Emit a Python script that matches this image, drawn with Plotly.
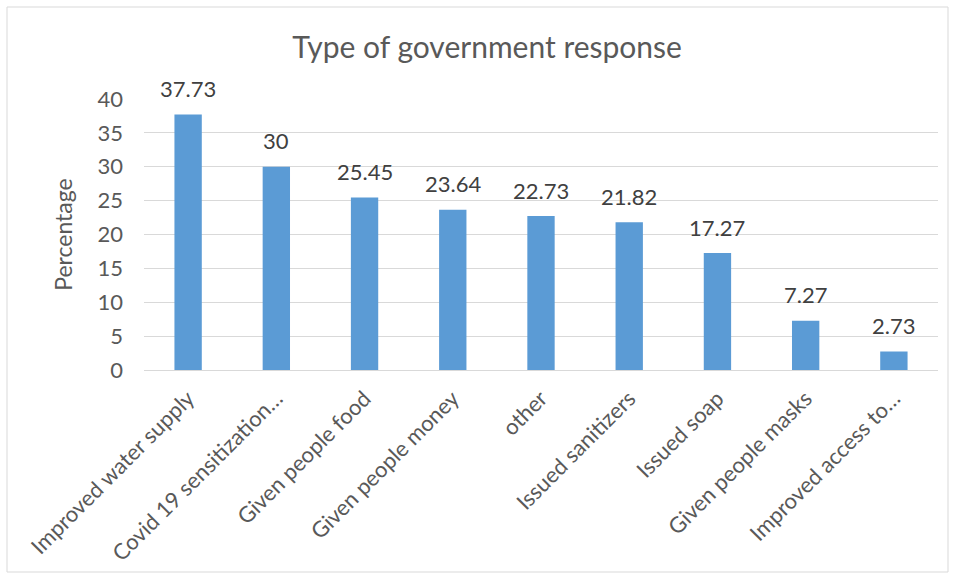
import plotly.graph_objects as go

categories = ["Improved water supply", "Covid 19 sensitization…", "Given people food",
              "Given people money", "other", "Issued sanitizers", "Issued soap",
              "Given people masks", "Improved access to…"]
values = [37.73, 30, 25.45, 23.64, 22.73, 21.82, 17.27, 7.27, 2.73]
labels = ["37.73", "30", "25.45", "23.64", "22.73", "21.82", "17.27", "7.27", "2.73"]
yticks = [0, 5, 10, 15, 20, 25, 30, 35, 40]

FONT = "Lato"
TXT = "#595959"

fig = go.Figure()
fig.add_trace(go.Bar(x=categories, y=values, marker=dict(color="#5B9BD5", line=dict(width=0)),
                     hoverinfo="skip"))

for c, v, t in zip(categories, values, labels):
    fig.add_annotation(x=c, y=v, text=t, showarrow=False, yanchor="middle", yshift=26,
                       font=dict(family=FONT, size=22, color="#404040"))

L, R, T, B = 144, 17, 99, 209
W, H = 955, 579
pw, ph = W - L - R, H - T - B
def px(x): return (x - L) / pw
def py(y): return (H - B - y) / ph

fig.add_shape(type="rect", xref="paper", yref="paper",
              x0=px(7), x1=px(948), y0=py(572), y1=py(7),
              line=dict(color="#d9d9d9", width=1), fillcolor="rgba(0,0,0,0)", layer="below")

fig.update_layout(
    width=W, height=H,
    margin=dict(l=L, r=R, t=T, b=B),
    paper_bgcolor="white", plot_bgcolor="white",
    bargap=0.69,
    showlegend=False,
    title=dict(text="Type of government response", x=0.51, xanchor="center",
               y=1 - 47 / H, yanchor="middle",
               font=dict(family=FONT, size=30, color=TXT)),
    xaxis=dict(tickangle=-45, tickfont=dict(family=FONT, size=22, color=TXT),
               showline=True, linecolor="#d9d9d9", linewidth=1, ticks="",
               ticklabelstandoff=6, showgrid=False),
    yaxis=dict(range=[0, 40], tickvals=yticks, showgrid=True, gridcolor="#d9d9d9",
               gridwidth=1, zeroline=False, ticks="", ticklabelstandoff=20,
               tickfont=dict(family=FONT, size=22, color=TXT),
               title=dict(text="Percentage", font=dict(family=FONT, size=23, color=TXT),
                          standoff=18)),
)
fig.write_html("out.html")
